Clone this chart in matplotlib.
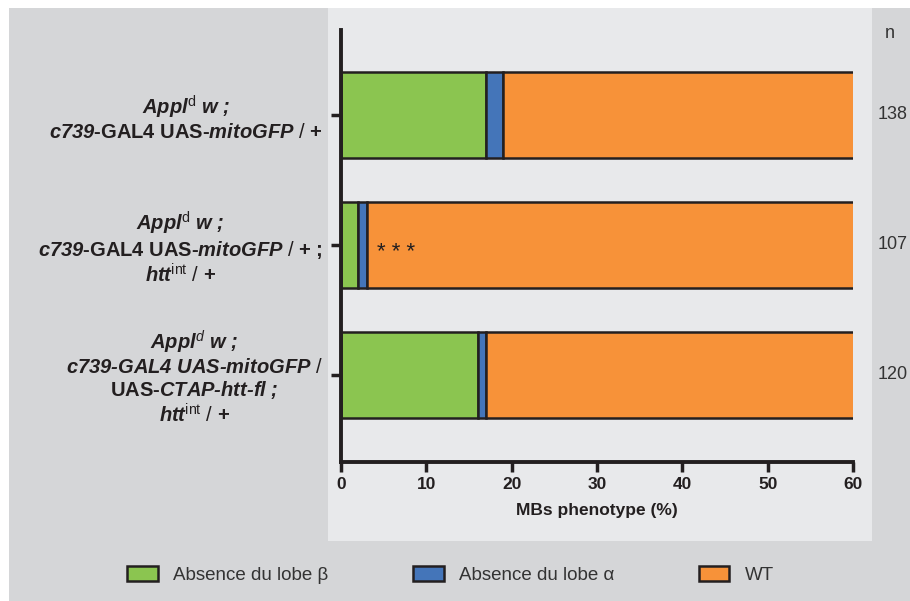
import matplotlib
import numpy as np

matplotlib.use("Agg")
import matplotlib.pyplot as plt
import matplotlib.transforms as mtransforms
from matplotlib.patches import Rectangle, Patch

plt.rcParams["font.family"] = ["Liberation Sans", "DejaVu Sans"]
plt.rcParams["mathtext.fontset"] = "custom"
plt.rcParams["mathtext.rm"] = "Liberation Sans"
plt.rcParams["mathtext.it"] = "Liberation Sans:italic"
plt.rcParams["mathtext.bf"] = "Liberation Sans:bold"
plt.rcParams["mathtext.bfit"] = "Liberation Sans:italic:bold"

H = "\u2010"  # real hyphen, mathtext turns "-" into a minus sign

# data (percent of mushroom bodies)
genotypes = [
    r"$\mathbfit{Appl}^{\mathregular{d}}\mathbfit{\ w\ ;}$" "\n"
    r"$\mathbfit{c739}\mathbf{" + H + r"GAL4\ UAS" + H + r"}\mathbfit{mitoGFP}\mathregular{\ /\ }\mathbf{+}$",
    r"$\mathbfit{Appl}^{\mathregular{d}}\mathbfit{\ w\ ;}$" "\n"
    r"$\mathbfit{c739}\mathbf{" + H + r"GAL4\ UAS" + H + r"}\mathbfit{mitoGFP}\mathregular{\ /\ }\mathbf{+\ ;}$" "\n"
    r"$\mathbfit{htt}^{\mathregular{int}}\mathregular{\ /\ }\mathbf{+}$",
    r"$\mathbfit{Appl}^{\mathit{d}}\mathbfit{\ w\ ;}$" "\n"
    r"$\mathbfit{c739" + H + r"GAL4\ UAS" + H + r"mitoGFP}\mathregular{\ /}$" "\n"
    r"$\mathbf{UAS" + H + r"}\mathbfit{CTAP" + H + r"htt" + H + r"fl\ ;}$" "\n"
    r"$\mathbfit{htt}^{\mathregular{int}}\mathregular{\ /\ }\mathbf{+}$",
]
absence_beta = [17, 2, 16]
absence_alpha = [2, 1, 1]
n_flies = [138, 107, 120]
series_names = ["Absence du lobe β", "Absence du lobe α", "WT"]
colors = ["#8bc550", "#4475b9", "#f79239"]
edge = "#231f20"

absence_beta = np.array(absence_beta)
absence_alpha = np.array(absence_alpha)
wild_type = 100 - absence_beta - absence_alpha

fig = plt.figure(figsize=(9.10, 6.01), dpi=100, facecolor="white")
# background panels
fig.patches.append(Rectangle((0.0099, 0), 1.0, 0.9867, transform=fig.transFigure,
                             facecolor="#d5d6d8", edgecolor="none", zorder=-2))
fig.patches.append(Rectangle((0.3604, 0.0998), 0.5978, 0.8869, transform=fig.transFigure,
                             facecolor="#e8e9eb", edgecolor="none", zorder=-1))

ax = fig.add_axes([0.3747, 0.2313, 0.5626, 0.7188])
ax.set_facecolor("none")

y = np.arange(len(genotypes))
h = 0.66
kw = dict(height=h, edgecolor=edge, linewidth=1.8)
ax.barh(y, absence_beta, color=colors[0], **kw)
ax.barh(y, absence_alpha, left=absence_beta, color=colors[1], **kw)
ax.barh(y, wild_type, left=absence_beta + absence_alpha, color=colors[2], **kw)

ax.set_xlim(0, 60)
ax.set_ylim(2.67, -0.654)
ax.set_xticks(np.arange(0, 61, 10))
ax.set_yticks(y)
ax.set_yticklabels(genotypes, fontsize=14.5, multialignment="center", color=edge,
                   linespacing=1.12)
for lab in ax.get_xticklabels():
    lab.set_fontweight("bold")
ax.tick_params(axis="x", labelsize=12.5, width=2.5, length=7, color=edge, labelcolor=edge, pad=4)
ax.tick_params(axis="y", width=2.5, length=7, color=edge, pad=6)
for s in ["top", "right"]:
    ax.spines[s].set_visible(False)
for s in ["left", "bottom"]:
    ax.spines[s].set_linewidth(2.8)
    ax.spines[s].set_color(edge)
ax.set_xlabel("MBs phenotype (%)", fontsize=12.5, fontweight="bold", color=edge, labelpad=8)

# significance mark, nudged down because asterisks sit high in the glyph box
ax.text(6.5, 1.06, "* * *", ha="center", va="center", fontsize=16, color=edge)

# n column
trans = mtransforms.blended_transform_factory(ax.transAxes, ax.transData)
for yi, n in zip(y, n_flies):
    ax.text(1.0488, yi, str(n), transform=trans, ha="left", va="center",
            fontsize=13, color="#333333", clip_on=False)
ax.text(1.072, 0.992, "n", transform=ax.transAxes, ha="center", va="center",
        fontsize=13, color="#333333")

handles = [Patch(facecolor=c, edgecolor=edge, linewidth=1.8, label=l)
           for c, l in zip(colors, series_names)]
fig.legend(handles=handles, loc="center", bbox_to_anchor=(0.495, 0.043), ncol=3,
           frameon=False, fontsize=13.5, handlelength=1.65, handleheight=0.85,
           handletextpad=0.8, columnspacing=4.5, labelcolor="#333333")

fig.savefig("out.png", dpi=100)
